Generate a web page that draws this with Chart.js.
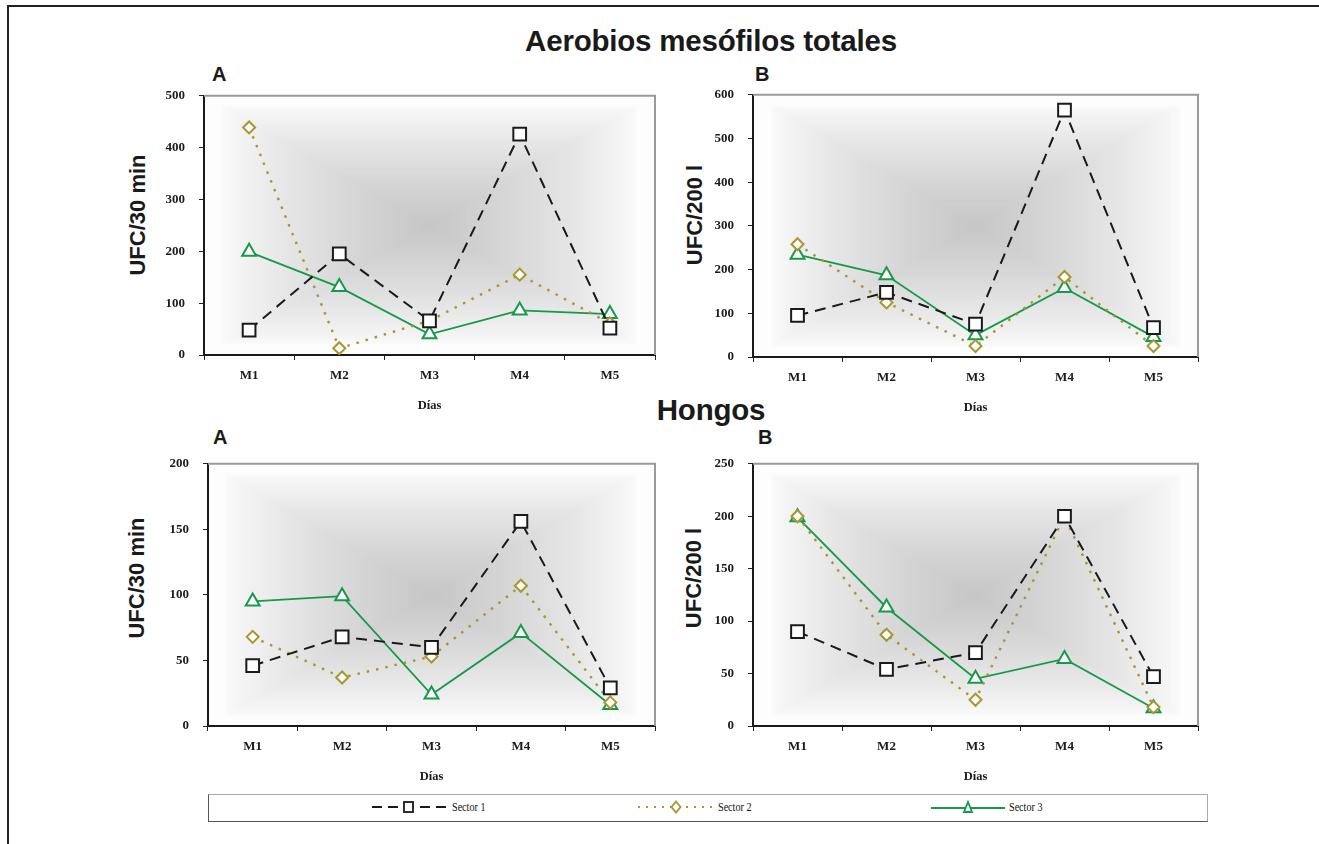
<!DOCTYPE html>
<html>
<head>
<meta charset="utf-8">
<script src="https://cdn.jsdelivr.net/npm/chart.js@4.4.1/dist/chart.umd.min.js"></script>
<style>
  html, body { margin: 0; padding: 0; background: #fff; }
  body { width: 1319px; height: 844px; position: relative; overflow: hidden; font-family: "Liberation Sans", Arial, sans-serif; }
  .frame { position: absolute; left: 7px; top: 5px; width: 1320px; height: 850px; border-left: 2px solid #222; border-top: 2px solid #222; }
  .title { position: absolute; left: 0; width: 1422px; text-align: center; font-weight: bold; font-size: 29.5px; color: #1a1a1a; letter-spacing: -0.2px; }
  .panel { position: absolute; font-weight: bold; font-size: 20px; color: #1a1a1a; }
  .ytitle { position: absolute; width: 200px; height: 26px; line-height: 26px; text-align: center; font-weight: bold; font-size: 22px; color: #1a1a1a; transform: rotate(-90deg); }
  .box { position: absolute; }
  .legend { position: absolute; left: 208px; top: 794px; width: 998px; height: 26px; border: 1px solid #aaa; border-left-color: #555; border-bottom-color: #555; }
  .item { position: absolute; top: 5px; display: flex; align-items: center; font-family: "Liberation Serif", serif; font-size: 11.5px; color: #111; }
  .item span { display: inline-block; transform: scaleX(0.88); transform-origin: left center; }
  .item svg { margin-right: 3px; }
</style>
</head>
<body>
<div class="frame"></div>
<div class="title" style="top:24px">Aerobios mesófilos totales</div>
<div class="title" style="top:393px">Hongos</div>
<div class="panel" style="left:212px;top:63px">A</div>
<div class="panel" style="left:755px;top:63px">B</div>
<div class="panel" style="left:213px;top:426px">A</div>
<div class="panel" style="left:758px;top:426px">B</div>

<div class="ytitle" style="left:38px;top:202px">UFC/30 min</div>
<div class="ytitle" style="left:595px;top:202px">UFC/200 l</div>
<div class="ytitle" style="left:37px;top:565px">UFC/30 min</div>
<div class="ytitle" style="left:594px;top:565px">UFC/200 l</div>

<div class="box" style="left:120px;top:74px;width:546px;height:342px"><canvas id="aerA"></canvas></div>
<div class="box" style="left:676px;top:73px;width:534px;height:345px"><canvas id="aerB"></canvas></div>
<div class="box" style="left:122px;top:442px;width:544px;height:345px"><canvas id="honA"></canvas></div>
<div class="box" style="left:676px;top:442px;width:534px;height:345px"><canvas id="honB"></canvas></div>

<div class="legend">
  <div class="item" style="left:162px">
    <svg width="78" height="14"><line x1="1" y1="7" x2="77" y2="7" stroke="#1a1a1a" stroke-width="2" stroke-dasharray="10,6"/><rect x="33" y="2" width="9" height="10" fill="#fff" stroke="#1a1a1a" stroke-width="1.8"/></svg><span>Sector 1</span>
  </div>
  <div class="item" style="left:428px">
    <svg width="78" height="14"><line x1="1" y1="7" x2="77" y2="7" stroke="#a8962f" stroke-width="2.2" stroke-dasharray="2,6"/><polygon points="39,1.5 43.5,7 39,12.5 34.5,7" fill="#fff" stroke="#a8962f" stroke-width="1.8"/></svg><span>Sector 2</span>
  </div>
  <div class="item" style="left:721px">
    <svg width="76" height="14"><line x1="1" y1="8" x2="75" y2="8" stroke="#16994b" stroke-width="1.8"/><polygon points="38,2 42,12 34,12" fill="#fff" stroke="#16994b" stroke-width="1.8"/></svg><span>Sector 3</span>
  </div>
</div>

<script>
// categories
const dias = ['M1', 'M2', 'M3', 'M4', 'M5'];
const seriesNames = ['Sector 1', 'Sector 2', 'Sector 3'];

// Aerobios mesófilos totales - A (UFC/30 min)
const aerobiosA_s1 = [48, 195, 66, 426, 52];
const aerobiosA_s2 = [439, 13, 66, 155, 61];
const aerobiosA_s3 = [199, 131, 40, 86, 79];
// Aerobios mesófilos totales - B (UFC/200 l)
const aerobiosB_s1 = [95, 148, 75, 565, 67];
const aerobiosB_s2 = [258, 125, 25, 183, 25];
const aerobiosB_s3 = [234, 187, 50, 158, 46];
// Hongos - A (UFC/30 min)
const hongosA_s1 = [46, 68, 60, 156, 29];
const hongosA_s2 = [68, 37, 53, 107, 18];
const hongosA_s3 = [95, 99, 24, 71, 16];
// Hongos - B (UFC/200 l)
const hongosB_s1 = [90, 54, 70, 200, 47];
const hongosB_s2 = [200, 87, 25, 200, 18];
const hongosB_s3 = [199, 113, 45, 64, 17];

// axis maxima / steps
const axisMax = { aerA: 500, aerB: 600, honA: 200, honB: 250 };
const axisStep = { aerA: 100, aerB: 100, honA: 50, honB: 50 };

// grey "from centre" fill of the plot area plus the grey top/right border
const plotFrame = {
    id: 'plotFrame',
    beforeDraw(chart) {
        const a = chart.chartArea;
        const ctx = chart.ctx;
        const w = a.right - a.left, h = a.bottom - a.top;
        const cx = a.left + w / 2, cy = a.top + h / 2;
        ctx.save();
        ctx.fillStyle = '#fdfdfd';
        ctx.fillRect(a.left, a.top, w, h);
        const n = 60;
        for (let i = 0; i <= n; i++) {
            const t = i / n;
            const s = 0.92 * (1 - t);
            const k = Math.pow(t, 0.8);
            const c = Math.round(250 - 52 * k);
            ctx.fillStyle = `rgb(${c},${c},${c})`;
            ctx.fillRect(cx - w / 2 * s, cy - h / 2 * s, w * s, h * s);
        }
        ctx.restore();
    },
    afterDraw(chart) {
        const a = chart.chartArea;
        const ctx = chart.ctx;
        ctx.save();
        ctx.strokeStyle = '#9a9a9a';
        ctx.lineWidth = 2;
        ctx.beginPath();
        ctx.moveTo(a.left, a.top);
        ctx.lineTo(a.right, a.top);
        ctx.lineTo(a.right, a.bottom);
        ctx.stroke();
        ctx.restore();
    }
};

const tickFont = { family: '"Liberation Serif", "Times New Roman", serif', weight: 'bold', size: 13 };

function makeChart(id, s1, s2, s3, yWidth, padRight) {
    new Chart(document.getElementById(id), {
        type: 'line',
        data: {
            labels: dias,
            datasets: [
                {
                    label: seriesNames[0], data: s1,
                    borderColor: '#1a1a1a', borderWidth: 2, borderDash: [11, 7],
                    pointStyle: 'rect', pointRadius: 9, pointBorderWidth: 2,
                    pointBackgroundColor: '#fff', pointBorderColor: '#1a1a1a'
                },
                {
                    label: seriesNames[1], data: s2,
                    borderColor: '#a8962f', borderWidth: 2.4, borderDash: [2.5, 7],
                    pointStyle: 'rectRot', pointRadius: 6, pointBorderWidth: 2,
                    pointBackgroundColor: '#fff', pointBorderColor: '#a8962f'
                },
                {
                    label: seriesNames[2], data: s3,
                    borderColor: '#16994b', borderWidth: 1.8,
                    pointStyle: 'triangle', pointRadius: 8, pointBorderWidth: 2,
                    pointBackgroundColor: '#fff', pointBorderColor: '#16994b'
                }
            ]
        },
        options: {
            responsive: true,
            maintainAspectRatio: false,
            animation: false,
            layout: { padding: { top: 3, right: padRight, left: 0, bottom: 0 } },
            plugins: { legend: { display: false }, tooltip: { enabled: false } },
            scales: {
                x: {
                    offset: true,
                    grid: { drawOnChartArea: false, tickLength: 5, color: '#222', offset: true },
                    border: { color: '#1a1a1a', width: 2 },
                    ticks: { font: tickFont, color: '#1a1a1a', padding: 8 },
                    title: { display: true, text: 'Días', font: { ...tickFont, size: 12.5 }, color: '#1a1a1a', padding: { top: 4, bottom: 3 } },
                    afterFit(scale) { scale.height = 61; }
                },
                y: {
                    min: 0, max: axisMax[id],
                    grid: { drawOnChartArea: false, tickLength: 5, color: '#222' },
                    border: { color: '#1a1a1a', width: 2 },
                    ticks: { stepSize: axisStep[id], font: tickFont, color: '#1a1a1a', padding: 14 },
                    afterFit(scale) { scale.width = yWidth; }
                }
            }
        },
        plugins: [plotFrame]
    });
}

makeChart('aerA', aerobiosA_s1, aerobiosA_s2, aerobiosA_s3, 84, 11);
makeChart('aerB', aerobiosB_s1, aerobiosB_s2, aerobiosB_s3, 77, 12);
makeChart('honA', hongosA_s1, hongosA_s2, hongosA_s3, 86, 11);
makeChart('honB', hongosB_s1, hongosB_s2, hongosB_s3, 77, 12);
</script>
</body>
</html>
